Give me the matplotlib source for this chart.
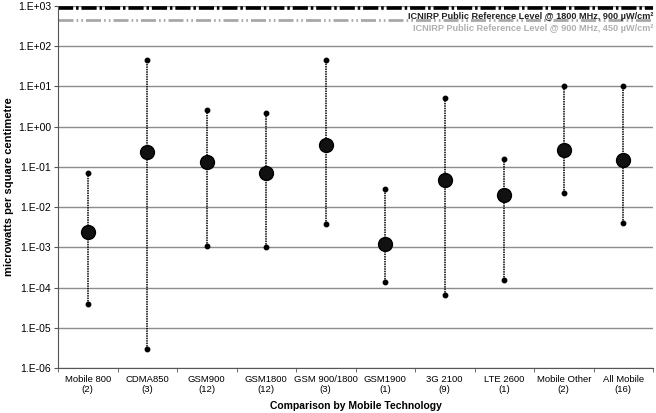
import numpy as np
import matplotlib
matplotlib.use("Agg")
from matplotlib import pyplot as plt

plt.rcParams['font.family'] = ['Liberation Sans', 'DejaVu Sans']

# categories and number of surveys in each
categories = ["Mobile 800", "CDMA850", "GSM900", "GSM1800", "GSM 900/1800",
              "GSM1900", "3G 2100", "LTE 2600", "Mobile Other", "All Mobile"]
counts = [2, 3, 12, 12, 3, 1, 9, 1, 2, 16]

# exposure in microwatts per square centimetre
means = [0.0024, 0.24, 0.13, 0.072, 0.36, 0.0012, 0.048, 0.020, 0.26, 0.15]
maxima = [0.07, 45, 2.6, 2.16, 45, 0.028, 5.2, 0.155, 10.5, 10.5]
minima = [3.9e-5, 2.9e-6, 1.07e-3, 1.0e-3, 3.8e-3, 1.4e-4, 6.4e-5, 1.5e-4, 0.023, 4.0e-3]

# reference levels
ref_1800 = 900
ref_900 = 450

fig = plt.figure(figsize=(6.56, 4.13), dpi=100)
ax = fig.add_axes([58 / 656, 1 - 368 / 413, 595 / 656, 362 / 413])

x = np.arange(len(categories))

ax.set_yscale("log")
ax.set_ylim(1e-6, 1e3)
ax.set_xlim(-0.5, len(categories) - 0.5)

# grid lines
ax.yaxis.grid(True, color="#8c8c8c", linewidth=1)
ax.set_axisbelow(True)

# reference levels
ax.axhline(ref_1800, color="black", linewidth=2.6, dashes=(4.2, 0.8, 0.7, 0.8), clip_on=False)
ax.axhline(ref_900, color="#a8a8a8", linewidth=2, dashes=(5.4, 1.1, 0.6, 1.1, 0.6, 1.1))

# min-max ranges and means
for xi, lo, hi in zip(x, minima, maxima):
    ax.plot([xi, xi], [lo, hi], color="black", linewidth=1.1, linestyle=(0, (1, 0.6)))
ax.plot(x, maxima, "o", color="black", markersize=3.2)
ax.plot(x, minima, "o", color="black", markersize=3.2)
ax.plot(x, means, "o", color="#111111", markersize=10, markeredgecolor="black")

ax.text(len(categories) - 0.5, ref_1800 * 0.78,
        "ICNIRP Public Reference Level @ 1800 MHz, 900 \u00b5W/cm\u00b2",
        ha="right", va="top", fontsize=6.6, fontweight="bold", color="#222222")
ax.text(len(categories) - 0.5, ref_900 * 0.78,
        "ICNIRP Public Reference Level @ 900 MHz, 450 \u00b5W/cm\u00b2",
        ha="right", va="top", fontsize=6.6, fontweight="bold", color="#b0b0b0")

# y axis
powers = range(-6, 4)
ax.set_yticks([10.0 ** p for p in powers])
ax.set_yticklabels(["1.E%s%02d" % ("+" if p >= 0 else "-", abs(p)) for p in powers])
ax.yaxis.set_minor_locator(matplotlib.ticker.NullLocator())
ax.tick_params(axis="y", labelsize=7.5, length=3, color="#555555", pad=2)
ax.set_ylabel("microwatts per square centimetre", fontsize=8, fontweight="bold", labelpad=3)

# x axis: labels at categories, ticks at category boundaries
ax.set_xticks(x)
ax.set_xticklabels(["%s\n(%d)" % (c, n) for c, n in zip(categories, counts)])
ax.set_xticks(np.arange(-0.5, len(categories)), minor=True)
ax.tick_params(axis="x", which="major", length=0, labelsize=6.8, pad=5)
ax.tick_params(axis="x", which="minor", length=3, color="#555555")
ax.set_xlabel("Comparison by Mobile Technology", fontsize=7.5, fontweight="bold", labelpad=5)

for side in ["top", "right"]:
    ax.spines[side].set_visible(False)
ax.spines["left"].set_color("#555555")
ax.spines["bottom"].set_color("#555555")

fig.savefig("out.png", dpi=100)
